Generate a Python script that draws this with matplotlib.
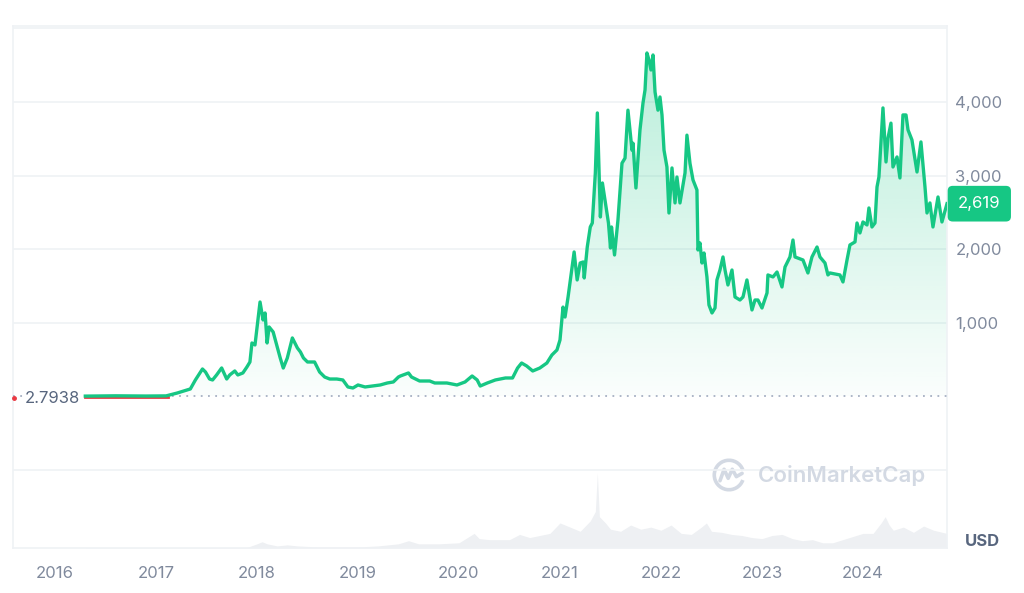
import numpy as np
import matplotlib.pyplot as plt
from matplotlib.patches import Arc
from matplotlib.path import Path
from matplotlib.patches import PathPatch

plt.rcParams['font.family'] = ['Inter', 'DejaVu Sans']

# price (USD), dates as decimal years
dates = [2016.30, 2016.60, 2016.90, 2017.10, 2017.21, 2017.34, 2017.39, 2017.46, 2017.49, 2017.53,
         2017.56, 2017.60, 2017.65, 2017.70, 2017.73, 2017.78, 2017.81, 2017.86, 2017.90, 2017.93,
         2017.95, 2017.98, 2018.00, 2018.03, 2018.06, 2018.08, 2018.10, 2018.12, 2018.16, 2018.20,
         2018.23, 2018.26, 2018.30, 2018.35, 2018.40, 2018.43, 2018.46, 2018.50, 2018.57, 2018.62,
         2018.67, 2018.72, 2018.79, 2018.85, 2018.90, 2018.95, 2019.00, 2019.07, 2019.14, 2019.22,
         2019.29, 2019.35, 2019.40, 2019.42, 2019.50, 2019.53, 2019.61, 2019.71, 2019.76, 2019.88,
         2019.98, 2020.06, 2020.13, 2020.18, 2020.21, 2020.28, 2020.36, 2020.46, 2020.53, 2020.58,
         2020.62, 2020.67, 2020.73, 2020.80, 2020.87, 2020.92, 2020.97, 2021.00, 2021.03, 2021.05,
         2021.08, 2021.12, 2021.14, 2021.17, 2021.20, 2021.23, 2021.24, 2021.27, 2021.30, 2021.32,
         2021.35, 2021.37, 2021.40, 2021.42, 2021.45, 2021.48, 2021.50, 2021.51, 2021.54, 2021.574,
         2021.614, 2021.644, 2021.673, 2021.713, 2021.723, 2021.752, 2021.792, 2021.822, 2021.842, 2021.861,
         2021.881, 2021.901, 2021.921, 2021.941, 2021.970, 2021.990, 2022.010, 2022.030, 2022.059, 2022.079,
         2022.109, 2022.139, 2022.158, 2022.188, 2022.238, 2022.257, 2022.287, 2022.317, 2022.356, 2022.366,
         2022.386, 2022.406, 2022.426, 2022.455, 2022.475, 2022.505, 2022.535, 2022.554, 2022.584, 2022.614,
         2022.634, 2022.663, 2022.703, 2022.733, 2022.782, 2022.812, 2022.851, 2022.901, 2022.931, 2022.960,
         2023.000, 2023.050, 2023.059, 2023.109, 2023.149, 2023.198, 2023.228, 2023.277, 2023.307, 2023.327,
         2023.406, 2023.455, 2023.495, 2023.545, 2023.574, 2023.624, 2023.653, 2023.673, 2023.772, 2023.802,
         2023.842, 2023.871, 2023.921, 2023.941, 2023.970, 2024.000, 2024.040, 2024.059, 2024.089, 2024.119,
         2024.139, 2024.158, 2024.198, 2024.228, 2024.248, 2024.277, 2024.297, 2024.337, 2024.366, 2024.396,
         2024.426, 2024.446, 2024.485, 2024.535, 2024.574, 2024.614, 2024.634, 2024.663, 2024.693, 2024.743,
         2024.782, 2024.832]
prices = [8, 12, 9, 11, 50, 105, 227, 376, 335, 240,
          227, 295, 390, 240, 295, 349, 295, 322, 403, 471,
          729, 702, 932, 1285, 1041, 1136, 729, 946, 878, 674,
          525, 389, 525, 797, 661, 607, 525, 471, 471, 335,
          267, 240, 240, 227, 132, 118, 159, 132, 145, 159,
          186, 200, 267, 281, 322, 267, 213, 213, 186, 186,
          159, 200, 281, 227, 145, 186, 227, 254, 254, 389,
          457, 417, 349, 389, 457, 566, 634, 769, 1216, 1081,
          1353, 1760, 1964, 1584, 1814, 1828, 1611, 2031, 2303, 2357,
          3036, 3850, 2439, 2900, 2629, 2357, 2018, 2303, 1923, 2398,
          3169, 3237, 3888, 3345, 3440, 2832, 3620, 3986, 4162, 4664,
          4569, 4433, 4637, 4135, 3888, 4067, 3823, 3345, 3117, 2493,
          3104, 2629, 2981, 2629, 3036, 3549, 3168, 2941, 2805, 1991,
          2086, 1814, 1950, 1625, 1245, 1136, 1204, 1584, 1719, 1896,
          1719, 1516, 1719, 1353, 1312, 1353, 1584, 1177, 1312, 1312,
          1204, 1408, 1652, 1625, 1692, 1489, 1760, 1896, 2126, 1896,
          1855, 1679, 1896, 2031, 1896, 1814, 1652, 1679, 1652, 1557,
          1855, 2059, 2100, 2357, 2222, 2371, 2330, 2561, 2303, 2357,
          2846, 2982, 3918, 3185, 3510, 3712, 3117, 3253, 2968, 3823,
          3823, 3620, 3484, 3049, 3457, 2846, 2493, 2629, 2303, 2710,
          2371, 2619]

# 24h volume (billion USD), rough reading of the grey bars
vol_dates = [2016.30, 2017.90, 2018.00, 2018.05, 2018.10, 2018.20, 2018.30, 2018.40, 2018.60, 2019.00,
             2019.20, 2019.40, 2019.50, 2019.60, 2019.80, 2020.00, 2020.15, 2020.20, 2020.30, 2020.50,
             2020.60, 2020.70, 2020.90, 2021.00, 2021.10, 2021.20, 2021.30, 2021.35, 2021.37, 2021.39,
             2021.45, 2021.50, 2021.60, 2021.70, 2021.80, 2021.90, 2022.00, 2022.10, 2022.20, 2022.30,
             2022.40, 2022.45, 2022.50, 2022.60, 2022.70, 2022.80, 2022.90, 2023.00, 2023.10, 2023.20,
             2023.30, 2023.40, 2023.50, 2023.60, 2023.70, 2023.80, 2023.90, 2024.00, 2024.10, 2024.18,
             2024.22, 2024.26, 2024.30, 2024.40, 2024.50, 2024.60, 2024.70, 2024.83]
vol_values = [0.3, 0.5, 4, 6, 4, 2, 3, 2, 1, 1,
              2, 4, 7, 4, 4, 5, 14, 9, 8, 8,
              13, 10, 14, 24, 20, 16, 26, 35, 72, 30,
              24, 18, 16, 22, 18, 20, 17, 22, 14, 13,
              20, 24, 16, 15, 13, 12, 10, 9, 12, 13,
              9, 7, 8, 5, 5, 8, 11, 14, 14, 24,
              30, 22, 17, 20, 15, 21, 17, 14]

start_price = 2.7938
last_price = 2619
years = [2016, 2017, 2018, 2019, 2020, 2021, 2022, 2023, 2024]
price_ticks = [1000, 2000, 3000, 4000]

green = '#16c784'
grid_c = '#eff2f5'
text_c = '#808a9d'

fig = plt.figure(figsize=(10.24, 5.93), dpi=100)
ax = fig.add_axes([13 / 1024, 45 / 593, 934 / 1024, 522 / 593])
ax.set_xlim(2015.584, 2024.832)
ax.set_ylim(-2053, 5030)
ax.patch.set_alpha(0)

# volume on its own hidden scale
axv = ax.twinx()
axv.set_ylim(0, 500)
axv.fill_between(vol_dates, vol_values, color='#eef0f3', lw=0)
axv.axis('off')
ax.set_zorder(axv.get_zorder() + 1)

for v in [5000, 4000, 3000, 2000, 1000, -1000]:
    ax.axhline(v, color=grid_c, lw=1.2, zorder=0)
for s in ax.spines.values():
    s.set_color(grid_c)
    s.set_linewidth(1.2)

# gradient fill under the line
d = np.array(dates)
p = np.array(prices)
poly = ax.fill_between(d, p, start_price, where=p >= start_price, color='none', lw=0)
grad = np.linspace(0.0, 1.0, 256).reshape(-1, 1)
rgba = np.zeros((256, 1, 4))
rgba[..., 0] = 0x16 / 255
rgba[..., 1] = 0xc7 / 255
rgba[..., 2] = 0x84 / 255
rgba[..., 3] = 0.02 + 0.28 * grad
im = ax.imshow(rgba, aspect='auto', origin='lower',
               extent=[d[0], d[-1], start_price, max(prices)], zorder=1)
im.set_clip_path(poly.get_paths()[0], transform=ax.transData)

# below-start segment (red), baseline, price line
ax.plot([2016.30, 2017.12], [-8, -8], color='#ea3943', lw=2, zorder=2)
ax.plot(dates, prices, color=green, lw=2.4, zorder=4, solid_joinstyle='round')
ax.axhline(start_price, color='#a6b0c3', lw=1.3, ls=(0, (1, 3)), zorder=3)

# start price label
ax.plot([ax.get_xlim()[0] + 0.01], [start_price - 25], 'o', color='#ea3943', ms=2.5,
        zorder=6, clip_on=False)
ax.text(2015.70, start_price - 25, '2.7938', fontsize=12, color='#58667e', va='center',
        ha='left', zorder=6, bbox=dict(fc='white', ec='none', pad=1))

# axis ticks
ax.set_xticks(years)
ax.set_xticklabels([str(y) for y in years])
ax.yaxis.tick_right()
ax.set_yticks(price_ticks)
ax.set_yticklabels([f'{v:,}' for v in price_ticks])
ax.tick_params(axis='x', length=0, pad=13, labelsize=12, labelcolor=text_c)
ax.tick_params(axis='y', length=0, pad=6, labelsize=12, labelcolor=text_c)

# current price badge
ax.text(1.0 + 11 / 934, last_price, f'{last_price:,}', transform=ax.get_yaxis_transform(),
        fontsize=12, color='white', va='center', ha='left', zorder=7,
        bbox=dict(boxstyle='round,pad=0.62,rounding_size=0.3', fc=green, ec='none'),
        clip_on=False)

fig.text(965 / 1024, 1 - 542 / 593, 'USD', fontsize=12, fontweight='bold', color='#58667e',
         va='center', ha='left')

# watermark
wm = '#d3d9e3'
fig.text(758 / 1024, 1 - 476 / 593, 'CoinMarketCap', fontsize=16, fontweight='semibold',
         color=wm, va='center', ha='left')
axl = fig.add_axes([711 / 1024, 1 - 493 / 593, 36 / 1024, 36 / 593])
axl.set_xlim(-1.1, 1.1)
axl.set_ylim(-1.1, 1.1)
axl.axis('off')
axl.add_patch(Arc((0, 0), 1.8, 1.8, theta1=20, theta2=340, color=wm, lw=2.6))
mpath = Path([(-0.55, -0.35), (-0.3, 0.35), (-0.05, -0.2), (0.2, 0.35), (0.45, -0.1), (0.8, 0.1)])
axl.add_patch(PathPatch(mpath, fc='none', ec=wm, lw=2.6, capstyle='round', joinstyle='round'))

fig.savefig('out.png', dpi=100)
